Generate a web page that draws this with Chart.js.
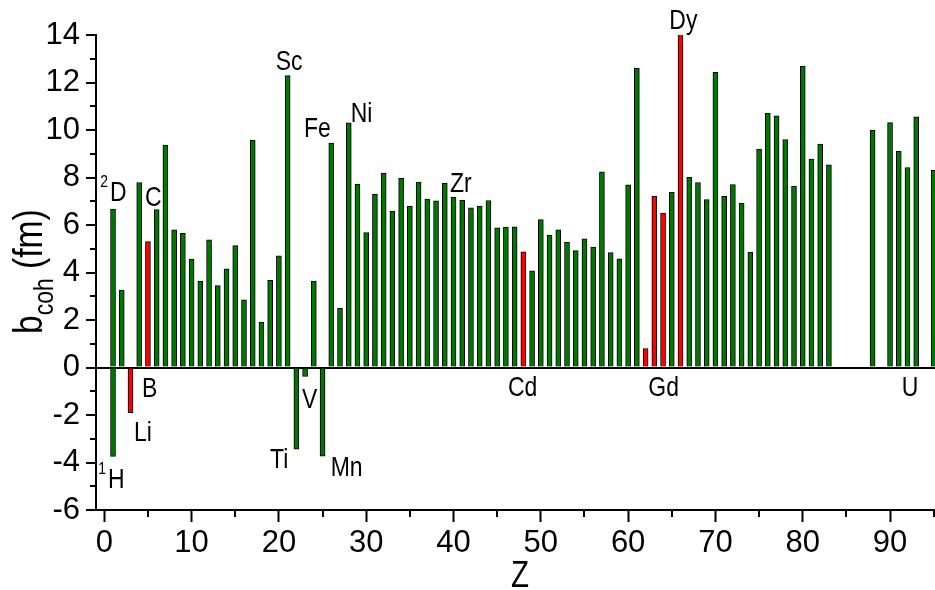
<!DOCTYPE html>
<html lang="en">
<head>
  <meta charset="UTF-8">
  <title>Coherent neutron scattering length vs Z</title>
  <script src="https://cdn.jsdelivr.net/npm/chart.js"></script>
  <style>
    html, body {
      margin: 0;
      padding: 0;
      background: #fff;
    }
    #chart {
      display: block;
    }
  </style>
</head>
<body>
<canvas id="chart" width="935" height="590"></canvas>

<script>
// atomic number Z and coherent scattering length b_coh (fm)
const zNumbers = [
  1, 2, 3, 4, 5, 6, 7, 8, 9, 10,
  11, 12, 13, 14, 15, 16, 17, 18, 19, 20,
  21, 22, 23, 24, 25, 26, 27, 28, 29, 30,
  31, 32, 33, 34, 35, 36, 37, 38, 39, 40,
  41, 42, 43, 44, 45, 46, 47, 48, 49, 50,
  51, 52, 53, 54, 55, 56, 57, 58, 59, 60,
  61, 62, 63, 64, 65, 66, 67, 68, 69, 70,
  71, 72, 73, 74, 75, 76, 77, 78, 79, 80,
  81, 82, 83, 88, 90, 91, 92, 93, 95
];
const bValues = [
  6.67, 3.26, -1.90, 7.79, 5.30, 6.65, 9.36, 5.80, 5.65, 4.57,
  3.63, 5.38, 3.45, 4.15, 5.13, 2.85, 9.58, 1.91, 3.67, 4.70,
  12.29, -3.44, -0.38, 3.64, -3.73, 9.45, 2.49, 10.30, 7.72, 5.68,
  7.29, 8.19, 6.58, 7.97, 6.80, 7.81, 7.09, 7.02, 7.75, 7.16,
  7.05, 6.72, 6.80, 7.03, 5.88, 5.91, 5.92, 4.87, 4.07, 6.23,
  5.57, 5.80, 5.28, 4.92, 5.42, 5.07, 8.24, 4.84, 4.58, 7.69,
  12.60, 0.80, 7.22, 6.50, 7.38, 16.90, 8.01, 7.79, 7.07, 12.43,
  7.21, 7.70, 6.91, 4.86, 9.20, 10.70, 10.60, 9.60, 7.63, 12.69,
  8.78, 9.41, 8.53, 10.00, 10.31, 9.10, 8.42, 10.55, 8.30
];
// light hydrogen, drawn at the same Z as deuterium
const hydrogenZ = [1];
const hydrogenB = [-3.74];
// strong absorbers (drawn in red)
const absorberZ = [3, 5, 48, 62, 63, 64, 66];

// element labels: text, superscript, anchor in data units (Z, b)
const labelText = ['D', 'H', 'Li', 'B', 'C', 'Sc', 'Ti', 'V', 'Mn', 'Fe', 'Ni', 'Zr', 'Cd', 'Gd', 'Dy', 'U'];
const labelSup  = ['2', '1', '', '', '', '', '', '', '', '', '', '', '', '', '', ''];
const labelZ = [0.65, 0.42, 3.4, 4.33, 4.66, 19.63, 18.98, 22.65, 25.93, 22.88, 28.22, 39.6, 46.24, 62.31, 64.72, 91.34];
const labelB = [7.03, -5.06, -3.09, -1.24, 6.78, 12.53, -4.22, -1.70, -4.56, 9.71, 10.35, 7.37, -1.22, -1.22, 14.24, -1.22];

const xTicks = [0, 10, 20, 30, 40, 50, 60, 70, 80, 90];
const yTicks = [-6, -4, -2, 0, 2, 4, 6, 8, 10, 12, 14];

const FONT = '"Liberation Sans", Arial, sans-serif';
const NARROW = 0.82; // squeeze to look like Arial Narrow
const GREEN = '#007800';
const RED = '#ff0000';

const mainData = zNumbers.map((z, i) => ({ x: z, y: bValues[i] }));
const hData = hydrogenZ.map((z, i) => ({ x: z, y: hydrogenB[i] }));

function narrowText(ctx, text, x, y, size, align) {
  ctx.save();
  ctx.translate(x, y);
  ctx.scale(NARROW, 1);
  ctx.font = size + 'px ' + FONT;
  ctx.textAlign = align || 'left';
  ctx.fillText(text, 0, 0);
  const w = ctx.measureText(text).width * NARROW;
  ctx.restore();
  return w;
}

// minor ticks, axis titles and element labels
const extrasPlugin = {
  id: 'extras',
  afterDraw(chart) {
    const ctx = chart.ctx;
    const xs = chart.scales.x, ys = chart.scales.y;
    const area = chart.chartArea;
    ctx.save();
    ctx.strokeStyle = '#000';
    ctx.lineWidth = 2;
    // minor ticks
    for (let v = -5; v <= 13; v += 2) {
      const py = Math.round(ys.getPixelForValue(v));
      ctx.beginPath();
      ctx.moveTo(area.left - 6, py);
      ctx.lineTo(area.left, py);
      ctx.stroke();
    }
    for (let v = 5; v <= 95; v += 10) {
      const px = Math.round(xs.getPixelForValue(v));
      ctx.beginPath();
      ctx.moveTo(px, area.bottom);
      ctx.lineTo(px, area.bottom + 7);
      ctx.stroke();
    }

    // element labels
    ctx.fillStyle = '#000';
    ctx.textBaseline = 'alphabetic';
    labelText.forEach((t, i) => {
      const px = xs.getPixelForValue(labelZ[i]);
      const py = ys.getPixelForValue(labelB[i]);
      narrowText(ctx, t, px, py, 28);
      if (labelSup[i]) {
        narrowText(ctx, labelSup[i], px - 2, py - 14, 17, 'right');
      }
    });

    // x title
    narrowText(ctx, 'Z', 520, 587, 36, 'center');

    // y title with subscript, rotated
    ctx.translate(42, 334);
    ctx.rotate(-Math.PI / 2);
    let w = narrowText(ctx, 'b', 0, 0, 41);
    w += narrowText(ctx, 'coh', w, 11, 28);
    narrowText(ctx, ' (fm)', w, 0, 41);
    ctx.restore();
  }
};

new Chart(document.getElementById('chart'), {
  type: 'bar',
  data: {
    datasets: [
      {
        data: mainData,
        backgroundColor: mainData.map(p => absorberZ.includes(p.x) ? RED : GREEN),
        borderColor: '#000',
        borderWidth: 1,
        barThickness: 5,
        grouped: false
      },
      {
        data: hData,
        backgroundColor: GREEN,
        borderColor: '#000',
        borderWidth: 1,
        barThickness: 5,
        grouped: false
      }
    ]
  },
  options: {
    responsive: false,
    animation: false,
    devicePixelRatio: 1,
    layout: { padding: { top: 35, right: 0, left: 0, bottom: 0 } },
    plugins: {
      legend: { display: false },
      tooltip: { enabled: false }
    },
    scales: {
      x: {
        type: 'linear',
        offset: false,
        min: -0.95,
        max: 95.15,
        afterFit: s => { s.height = 80; },
        afterBuildTicks: s => { s.ticks = xTicks.map(v => ({ value: v })); },
        border: { display: true, color: '#000', width: 2 },
        grid: { offset: false, drawOnChartArea: false, tickLength: 12, tickColor: '#000', tickWidth: 2 },
        ticks: {
          color: '#000',
          padding: 3,
          maxRotation: 0,
          autoSkip: false,
          font: { family: FONT, size: 31 }
        }
      },
      y: {
        type: 'linear',
        min: -6,
        max: 14,
        afterFit: s => { s.width = 96; },
        afterBuildTicks: s => { s.ticks = yTicks.map(v => ({ value: v })); },
        border: { display: true, color: '#000', width: 2 },
        grid: {
          color: c => c.tick && c.tick.value === 0 ? '#000' : 'rgba(0,0,0,0)',
          lineWidth: 2,
          tickLength: 10,
          tickColor: '#000',
          tickWidth: 2
        },
        ticks: {
          color: '#000',
          padding: 6,
          font: { family: FONT, size: 31 }
        }
      }
    }
  },
  plugins: [extrasPlugin]
});
</script>
</body>
</html>
